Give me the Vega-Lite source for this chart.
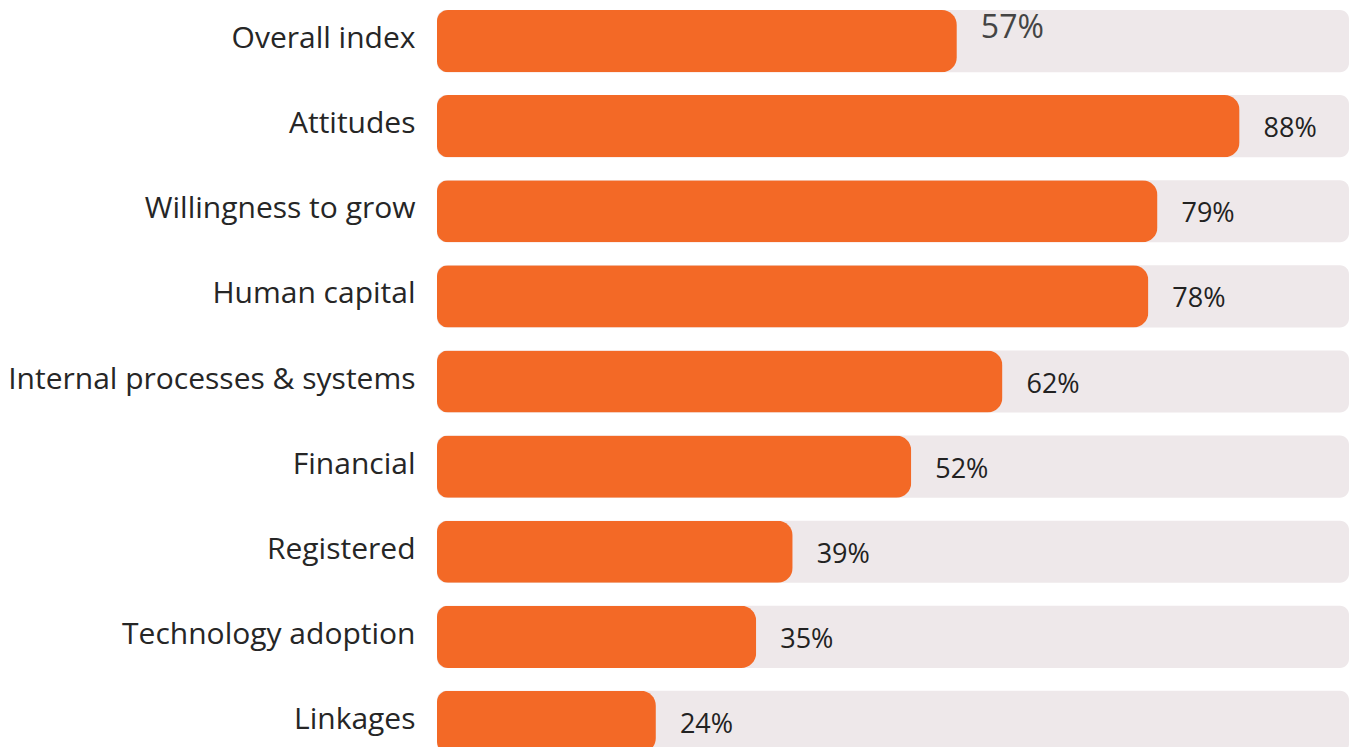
{
  "$schema": "https://vega.github.io/schema/vega-lite/v6.json",
  "width": 912,
  "height": 747,
  "autosize": {"type": "none"},
  "padding": {"left": 437, "top": 0, "right": 3, "bottom": 0},
  "background": "#ffffff",
  "config": {"view": {"stroke": null}},
  "data": {
    "values": [
      {"category": "Overall index", "value": 0.57},
      {"category": "Attitudes", "value": 0.88},
      {"category": "Willingness to grow", "value": 0.79},
      {"category": "Human capital", "value": 0.78},
      {"category": "Internal processes & systems", "value": 0.62},
      {"category": "Financial", "value": 0.52},
      {"category": "Registered", "value": 0.39},
      {"category": "Technology adoption", "value": 0.35},
      {"category": "Linkages", "value": 0.24}
    ]
  },
  "encoding": {
    "y": {
      "field": "category",
      "type": "nominal",
      "sort": null,
      "scale": {"range": [0, 763], "paddingInner": 0.27, "paddingOuter": 0.1175},
      "axis": {
        "title": null,
        "domain": false,
        "ticks": false,
        "labelPadding": 22,
        "labelFont": "Open Sans",
        "labelFontSize": 30,
        "labelColor": "#262626",
        "labelLimit": 500,
        "labelOffset": -2
      }
    }
  },
  "layer": [
    {
      "mark": {"type": "bar", "color": "#EEE8EA", "cornerRadius": 9},
      "encoding": {
        "x": {"datum": 1, "type": "quantitative", "scale": {"domain": [0, 1], "nice": false}, "axis": null}
      }
    },
    {
      "mark": {
        "type": "bar",
        "color": "#F36926",
        "cornerRadiusTopLeft": 11,
        "cornerRadiusBottomLeft": 11,
        "cornerRadiusTopRight": 15,
        "cornerRadiusBottomRight": 15
      },
      "encoding": {
        "x": {"field": "value", "type": "quantitative"}
      }
    },
    {
      "transform": [{"filter": "datum.category === 'Overall index'"}],
      "mark": {"type": "text", "align": "left", "baseline": "middle", "dx": 24, "dy": -13, "font": "Open Sans", "fontSize": 32, "color": "#444444"},
      "encoding": {
        "x": {"field": "value", "type": "quantitative"},
        "text": {"field": "value", "type": "quantitative", "format": ".0%"}
      }
    },
    {
      "transform": [{"filter": "datum.category !== 'Overall index'"}],
      "mark": {"type": "text", "align": "left", "baseline": "middle", "dx": 24, "dy": 3, "font": "Open Sans", "fontSize": 27, "color": "#222222"},
      "encoding": {
        "x": {"field": "value", "type": "quantitative"},
        "text": {"field": "value", "type": "quantitative", "format": ".0%"}
      }
    }
  ]
}
